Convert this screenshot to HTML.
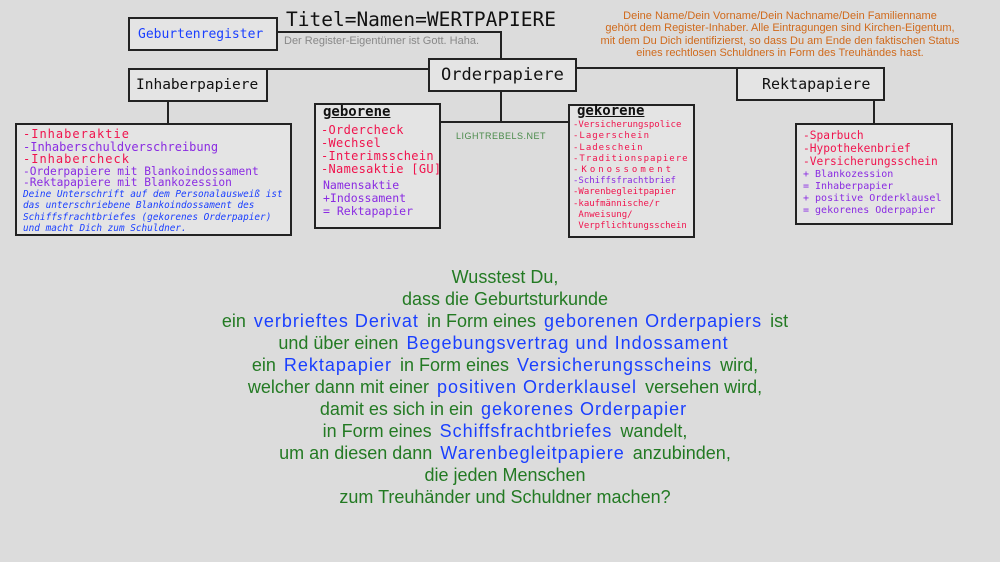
<!DOCTYPE html>
<html><head><meta charset="utf-8"><style>
body{margin:0;width:1000px;height:562px;background:#dcdcdc;position:relative;overflow:hidden;font-family:"Liberation Sans",sans-serif}
.a{position:absolute;white-space:nowrap}
.box{position:absolute;border:2px solid #222;background:#e4e4e4;box-sizing:border-box;white-space:nowrap}
.ln{position:absolute;background:#222}
.m{font-family:"DejaVu Sans Mono","Liberation Mono",monospace}
.r{color:#f0134d}.p{color:#8a2be2}.b{color:#1a3fff}
.mid{position:absolute;left:0;width:1010px;text-align:center;font-size:18px;color:#237a23;line-height:22px;white-space:nowrap;word-spacing:0px}
.mid span{color:#1a3fff;letter-spacing:1px;padding:0 3px}
</style></head><body>
<!-- lines -->
<div class="ln" style="left:277px;top:31px;width:225px;height:2px"></div>
<div class="ln" style="left:500px;top:31px;width:2px;height:28px"></div>
<div class="ln" style="left:267px;top:68px;width:162px;height:2px"></div>
<div class="ln" style="left:576px;top:67px;width:161px;height:2px"></div>
<div class="ln" style="left:167px;top:101px;width:2px;height:23px"></div>
<div class="ln" style="left:500px;top:90px;width:2px;height:33px"></div>
<div class="ln" style="left:440px;top:121px;width:129px;height:2px"></div>
<div class="ln" style="left:873px;top:99px;width:2px;height:25px"></div>

<div class="box m b" style="left:128px;top:17px;width:150px;height:34px;font-size:13px;padding:8px 0 0 8px;">Geburtenregister</div>
<div class="a m" style="left:286px;top:8px;font-size:19.5px;color:#111">Titel=Namen=WERTPAPIERE</div>
<div class="a" style="left:284px;top:35px;font-size:11px;color:#888">Der Register-Eigentümer ist Gott. Haha.</div>
<div class="box m" style="left:428px;top:58px;width:149px;height:34px;font-size:17px;padding:5px 0 0 11px;color:#111">Orderpapiere</div>
<div class="box m" style="left:128px;top:68px;width:140px;height:34px;font-size:14.5px;padding:7px 0 0 6px;color:#111">Inhaberpapiere</div>
<div class="box m" style="left:736px;top:67px;width:149px;height:34px;font-size:15px;padding:6px 0 0 24px;color:#111">Rektapapiere</div>

<div class="a" style="left:560px;top:10px;width:440px;text-align:center;font-size:11px;line-height:12.3px;color:#d06a1c">Deine Name/Dein Vorname/Dein Nachname/Dein Familienname<br>gehört dem Register-Inhaber. Alle Eintragungen sind Kirchen-Eigentum,<br>mit dem Du Dich identifizierst, so dass Du am Ende den faktischen Status<br>eines rechtlosen Schuldners in Form des Treuhändes hast.</div>

<div class="box m" style="left:15px;top:123px;width:277px;height:113px;padding:3px 0 0 6px;font-size:12px;line-height:12.5px">
<div class="r" style="letter-spacing:1px">-Inhaberaktie</div>
<div class="p">-Inhaberschuldverschreibung</div>
<div class="r" style="letter-spacing:1px">-Inhabercheck</div>
<div class="p" style="font-size:11.2px;line-height:11.5px">-Orderpapiere mit Blankoindossament<br>-Rektapapiere mit Blankozession</div>
<div class="b" style="font-size:9.4px;line-height:11.5px;font-style:italic">Deine Unterschrift auf dem Personalausweiß ist<br>das unterschriebene Blankoindossament des<br>Schiffsfrachtbriefes (gekorenes Orderpapier)<br>und macht Dich zum Schuldner.</div>
</div>

<div class="box m" style="left:314px;top:103px;width:127px;height:126px;padding:1px 0 0 5px;font-size:12px;line-height:13px">
<div style="font-weight:bold;text-decoration:underline;font-size:14px;color:#111;margin-bottom:5px;padding-left:2px">geborene</div>
<div class="r" style="letter-spacing:.3px">-Ordercheck<br>-Wechsel<br>-Interimsschein<br>-Namesaktie [GU]</div>
<div class="p" style="margin-top:3px;padding-left:2px;font-size:11.5px">Namensaktie<br>+Indossament<br>= Rektapapier</div>
</div>

<div class="a" style="left:456px;top:131px;font-size:9px;color:#4a8a4a;letter-spacing:.5px">LIGHTREBELS.NET</div>

<div class="box m" style="left:568px;top:104px;width:127px;height:134px;padding:0 0 0 3px;font-size:9px;line-height:11.2px">
<div style="font-weight:bold;text-decoration:underline;font-size:14px;color:#111;margin-bottom:3px;padding-left:4px">gekorene</div>
<div class="r">-Versicherungspolice<br><span style="letter-spacing:1px">-Lagerschein<br>-Ladeschein<br>-Traditionspapiere</span><br><span style="letter-spacing:3px">-Konossoment</span></div>
<div class="p">-Schiffsfrachtbrief</div>
<div class="r">-Warenbegleitpapier<br>-kaufmännische/r<br>&nbsp;Anweisung/<br>&nbsp;Verpflichtungsschein</div>
</div>

<div class="box m" style="left:795px;top:123px;width:158px;height:102px;padding:4px 0 0 6px;font-size:11.2px;line-height:13px">
<div class="r">-Sparbuch<br>-Hypothekenbrief<br>-Versicherungsschein</div>
<div class="p" style="font-size:10px;line-height:12px;margin-top:1px">+ Blankozession<br>= Inhaberpapier<br>+ positive Orderklausel<br>= gekorenes Oderpapier</div>
</div>

<div class="mid" style="top:266px">Wusstest Du,<br>dass die Geburtsturkunde<br>ein <span>verbrieftes Derivat</span> in Form eines <span>geborenen Orderpapiers</span> ist<br>und über einen <span>Begebungsvertrag und Indossament</span><br>ein <span>Rektapapier</span> in Form eines <span>Versicherungsscheins</span> wird,<br>welcher dann mit einer <span>positiven Orderklausel</span> versehen wird,<br>damit es sich in ein <span>gekorenes Orderpapier</span><br>in Form eines <span>Schiffsfrachtbriefes</span> wandelt,<br>um an diesen dann <span>Warenbegleitpapiere</span> anzubinden,<br>die jeden Menschen<br>zum Treuhänder und Schuldner machen?</div>
</body></html>
